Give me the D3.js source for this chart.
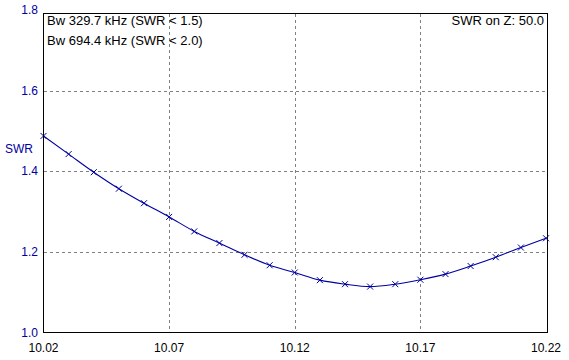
<!DOCTYPE html>
<meta charset="utf-8">
<head>
<title>SWR plot</title>
<style>
body { margin: 0; background-color: #FFF; }
text { font-family: 'Liberation Sans', Arial, sans-serif; font-size: 12px; }
.info { font-size: 13px; }
.grid line { stroke: #808080; stroke-dasharray: 3,3; shape-rendering: crispEdges; }
.frame { fill: none; stroke: #000; stroke-width: 1px; shape-rendering: crispEdges; }
</style>
</head>
<body>
<script src="https://cdn.jsdelivr.net/npm/d3@7"></script>
<script>
// frequency (MHz) for each marker
var freqs = [10.02,10.03,10.04,10.05,10.06,10.07,10.08,10.09,10.10,10.11,10.12,
             10.13,10.14,10.15,10.16,10.17,10.18,10.19,10.20,10.21,10.22];
// SWR
var swr = [1.488,1.443,1.398,1.357,1.321,1.287,1.251,1.222,1.193,1.167,1.149,
           1.130,1.120,1.114,1.120,1.131,1.145,1.165,1.187,1.211,1.234];
var xTicks = [10.02,10.07,10.12,10.17,10.22];
var yTicks = [1.0,1.2,1.4,1.6,1.8];
var infoLines = ["Bw 329.7 kHz (SWR < 1.5)", "Bw 694.4 kHz (SWR < 2.0)"];
var zLabel = "SWR on Z: 50.0";

var width = 569, height = 360;
var plotL = 43.5, plotR = 547.5, plotT = 10.3, plotB = 332.5, frameTop = 13.5;
var blue = "#0000a0";

var svg = d3.select("body").append("svg")
    .attr("width", width)
    .attr("height", height);

var x = d3.scaleLinear().domain([10.02, 10.22]).range([plotL, plotR - 1.5]);
var y = d3.scaleLinear().domain([1.0, 1.8]).range([plotB, plotT]);

// grid
var grid = svg.append("g").attr("class", "grid");
grid.selectAll(".v").data(xTicks.slice(1, -1)).enter().append("line")
    .attr("x1", function(d){ return Math.round(x(d)) + 0.5; })
    .attr("x2", function(d){ return Math.round(x(d)) + 0.5; })
    .attr("y1", frameTop).attr("y2", plotB);
grid.selectAll(".h").data(yTicks.slice(1, -1)).enter().append("line")
    .attr("y1", function(d){ return Math.round(y(d)) + 0.5; })
    .attr("y2", function(d){ return Math.round(y(d)) + 0.5; })
    .attr("x1", plotL).attr("x2", plotR);

// curve
var pts = freqs.map(function(f, i){ return [f, swr[i]]; });
var line = d3.line()
    .x(function(d){ return x(d[0]); })
    .y(function(d){ return y(d[1]); })
    .curve(d3.curveMonotoneX);
svg.append("path")
    .datum(pts)
    .attr("d", line)
    .attr("fill", "none")
    .attr("stroke", blue)
    .attr("stroke-width", 1.1);

// x markers
var m = 3;
svg.append("g").selectAll("path").data(pts).enter().append("path")
    .attr("d", function(d){
        var cx = x(d[0]), cy = y(d[1]);
        return "M" + (cx - m) + "," + (cy - m) + "L" + (cx + m) + "," + (cy + m) +
               "M" + (cx - m) + "," + (cy + m) + "L" + (cx + m) + "," + (cy - m);
    })
    .attr("stroke", blue)
    .attr("stroke-width", 1)
    .attr("fill", "none");

// frame
svg.append("rect").attr("class", "frame")
    .attr("x", plotL).attr("y", frameTop)
    .attr("width", plotR - plotL).attr("height", plotB - frameTop);

// y labels
svg.append("g").selectAll("text").data(yTicks).enter().append("text")
    .attr("x", 38)
    .attr("y", function(d){ return y(d) + 4; })
    .attr("text-anchor", "end")
    .attr("fill", blue)
    .text(function(d){ return d3.format(".1f")(d); });
svg.append("text").attr("x", 5).attr("y", 153).attr("fill", blue).text("SWR");

// x labels
svg.append("g").selectAll("text").data(xTicks).enter().append("text")
    .attr("x", function(d){ return x(d); })
    .attr("y", 352)
    .attr("text-anchor", "middle")
    .attr("fill", "#000")
    .text(function(d){ return d3.format(".2f")(d); });

// info text
svg.append("g").selectAll("text").data(infoLines).enter().append("text")
    .attr("class", "info")
    .attr("x", 47)
    .attr("y", function(d, i){ return 25 + i * 20; })
    .attr("fill", "#000")
    .text(function(d){ return d; });
svg.append("text").attr("class", "info").attr("x", 544).attr("y", 25)
    .attr("text-anchor", "end").attr("fill", "#000").text(zLabel);
</script>
</body>
